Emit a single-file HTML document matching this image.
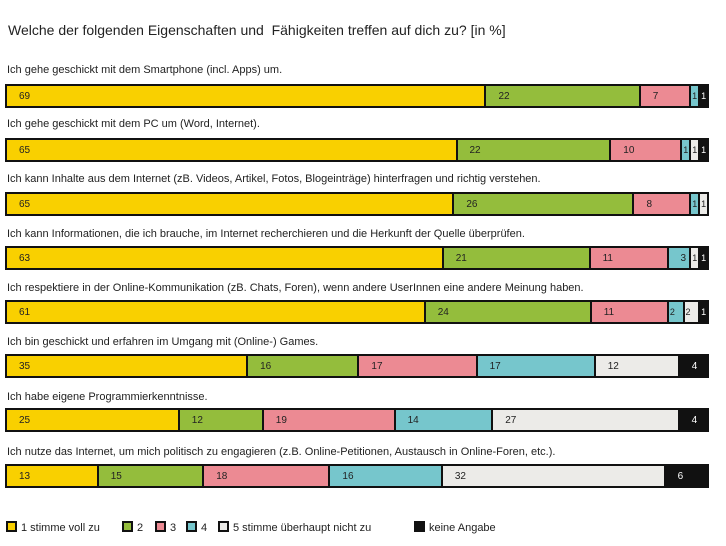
<!DOCTYPE html>
<html><head><meta charset="utf-8"><style>
body{margin:0;width:726px;height:546px;background:#fff;font-family:"Liberation Sans",sans-serif;color:#222;position:relative;overflow:hidden}
.t{position:absolute;left:8px;top:22px;font-size:14px;}
.l{position:absolute;left:7px;font-size:11px;}
.b{position:absolute;left:5px;width:704px;height:24px;display:flex;border:2px solid #111;box-sizing:border-box;background:#111;overflow:hidden}
.b div{box-sizing:border-box;min-width:0;flex-basis:0;border-right:2px solid #111;font-size:10px;line-height:21px;text-indent:12px;overflow:hidden;white-space:nowrap}
.b div:last-child{border-right:none}
.y{background:#f9d000}.g{background:#94bd3c}.p{background:#ec8a93}.c{background:#76c6cc}.w{background:#ecebe8}.k{background:#111;color:#fff}
.s{text-indent:1px!important;font-size:9px!important}
.lg{position:absolute;top:521px;font-size:11px;}
.sq{display:inline-block;width:7px;height:7px;border:2px solid #111;vertical-align:-1px;margin-right:4px}
</style></head><body>
<div class="t">Welche der folgenden Eigenschaften und&nbsp; Fähigkeiten treffen auf dich zu? [in %]</div>

<div class="l" style="top:64px">Ich gehe geschickt mit dem Smartphone (incl. Apps) um.</div>
<div class="b" style="top:84px"><div class="y" style="flex-grow:69">69</div><div class="g" style="flex-grow:22">22</div><div class="p" style="flex-grow:7">7</div><div class="c s" style="flex-grow:1">1</div><div class="k s" style="flex-grow:1">1</div></div>

<div class="l" style="top:118px">Ich gehe geschickt mit dem PC um (Word, Internet).</div>
<div class="b" style="top:138px"><div class="y" style="flex-grow:65">65</div><div class="g" style="flex-grow:22">22</div><div class="p" style="flex-grow:10">10</div><div class="c s" style="flex-grow:1">1</div><div class="w s" style="flex-grow:1">1</div><div class="k s" style="flex-grow:1">1</div></div>

<div class="l" style="top:173px">Ich kann Inhalte aus dem Internet (zB. Videos, Artikel, Fotos, Blogeinträge) hinterfragen und richtig verstehen.</div>
<div class="b" style="top:192px"><div class="y" style="flex-grow:65">65</div><div class="g" style="flex-grow:26">26</div><div class="p" style="flex-grow:8">8</div><div class="c s" style="flex-grow:1">1</div><div class="w s" style="flex-grow:1">1</div></div>

<div class="l" style="top:228px">Ich kann Informationen, die ich brauche, im Internet recherchieren und die Herkunft der Quelle überprüfen.</div>
<div class="b" style="top:246px"><div class="y" style="flex-grow:63">63</div><div class="g" style="flex-grow:21">21</div><div class="p" style="flex-grow:11">11</div><div class="c" style="flex-grow:3">3</div><div class="w s" style="flex-grow:1">1</div><div class="k s" style="flex-grow:1">1</div></div>

<div class="l" style="top:282px">Ich respektiere in der Online-Kommunikation (zB. Chats, Foren), wenn andere UserInnen eine andere Meinung haben.</div>
<div class="b" style="top:300px"><div class="y" style="flex-grow:61">61</div><div class="g" style="flex-grow:24">24</div><div class="p" style="flex-grow:11">11</div><div class="c s" style="flex-grow:2">2</div><div class="w s" style="flex-grow:2">2</div><div class="k s" style="flex-grow:1">1</div></div>

<div class="l" style="top:336px">Ich bin geschickt und erfahren im Umgang mit (Online-) Games.</div>
<div class="b" style="top:354px"><div class="y" style="flex-grow:35">35</div><div class="g" style="flex-grow:16">16</div><div class="p" style="flex-grow:17">17</div><div class="c" style="flex-grow:17">17</div><div class="w" style="flex-grow:12">12</div><div class="k" style="flex-grow:4">4</div></div>

<div class="l" style="top:391px">Ich habe eigene Programmierkenntnisse.</div>
<div class="b" style="top:408px"><div class="y" style="flex-grow:25">25</div><div class="g" style="flex-grow:12">12</div><div class="p" style="flex-grow:19">19</div><div class="c" style="flex-grow:14">14</div><div class="w" style="flex-grow:27">27</div><div class="k" style="flex-grow:4">4</div></div>

<div class="l" style="top:446px">Ich nutze das Internet, um mich politisch zu engagieren (z.B. Online-Petitionen, Austausch in Online-Foren, etc.).</div>
<div class="b" style="top:464px"><div class="y" style="flex-grow:13">13</div><div class="g" style="flex-grow:15">15</div><div class="p" style="flex-grow:18">18</div><div class="c" style="flex-grow:16">16</div><div class="w" style="flex-grow:32">32</div><div class="k" style="flex-grow:6">6</div></div>

<div class="lg" style="left:6px"><span class="sq y"></span>1 stimme voll zu</div>
<div class="lg" style="left:122px"><span class="sq g"></span>2</div>
<div class="lg" style="left:155px"><span class="sq p"></span>3</div>
<div class="lg" style="left:186px"><span class="sq c"></span>4</div>
<div class="lg" style="left:218px"><span class="sq w"></span>5 stimme überhaupt nicht zu</div>
<div class="lg" style="left:414px"><span class="sq k"></span>keine Angabe</div>
</body></html>
